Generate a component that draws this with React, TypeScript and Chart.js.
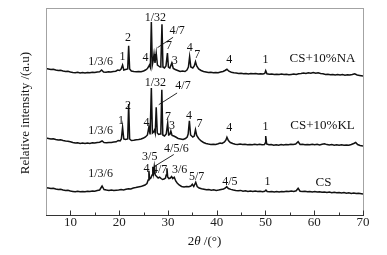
import React, { useEffect, useRef } from "react";
import { Chart, registerables } from "chart.js";

Chart.register(...registerables);

const FONT = "'Liberation Serif', 'Times New Roman', serif";

// x axis (2θ, degrees)
const xMin = 5;
const xMax = 70;
const xTickValues = [10, 20, 30, 40, 50, 60, 70];
const xMinorTicks = [15, 25, 35, 45, 55, 65];

// y axis: relative intensity (a.u.), patterns stacked
const yMin = 0;
const yMax = 207;

// CS + 10% NA pattern: [2θ, intensity]
const naPattern: [number, number][] = [
  [5, 146.5], [5.5, 146], [6, 145.5], [6.5, 145.8], [7, 145], [7.5, 144.5], [8, 144.8], [8.5, 144], [9, 143.5], [9.5, 143.8],
  [10, 143], [10.5, 142.5], [11, 142.2], [11.5, 142.8], [12, 142], [12.5, 142.5], [13, 142], [13.5, 142.6], [14, 142.2], [14.5, 142.8],
  [15, 142.5], [15.5, 143], [16, 143.2], [16.4, 145], [16.8, 143], [17.3, 142.8], [17.8, 143.2], [18.3, 143], [18.8, 143.5], [19.3, 143.8],
  [19.7, 145], [20.1, 144.5], [20.4, 146], [20.7, 150], [20.95, 145], [21.3, 145.5], [21.75, 146], [21.95, 169.3], [22.15, 146], [22.5, 144],
  [23, 143.5], [23.5, 143.2], [24, 143.6], [24.5, 143.3], [25, 144], [25.4, 145], [25.8, 146.5], [26.0, 148], [26.2, 150], [26.4, 147.5],
  [26.6, 193], [26.8, 150], [27.0, 155], [27.15, 161], [27.35, 152], [27.6, 162], [27.85, 150], [28.1, 149], [28.4, 148], [28.55, 151],
  [28.78, 190.7], [28.98, 148], [29.3, 147], [29.6, 149], [29.9, 162], [30.1, 148], [30.4, 147], [30.8, 152], [31.1, 146.5], [31.5, 145.5],
  [32, 144.5], [32.5, 143.5], [33, 144], [33.5, 143.5], [33.9, 145], [34.2, 148], [34.45, 158.3], [34.7, 148], [35.1, 147], [35.4, 149],
  [35.65, 153.3], [35.9, 149], [36.3, 146], [36.8, 144.5], [37.3, 143.5], [37.8, 143], [38.3, 142.5], [38.8, 142.8], [39.3, 142.2], [39.8, 142.6],
  [40.3, 142.2], [40.8, 143], [41.3, 143.5], [41.7, 144.5], [42.1, 145.7], [42.5, 143.8], [43, 142.8], [43.5, 142.2], [44, 142], [44.5, 141.5],
  [45, 141.8], [45.5, 141.2], [46, 141.5], [46.5, 141], [47, 141.5], [47.5, 141.2], [48, 141.6], [48.5, 141], [49, 141.3], [49.5, 141],
  [49.85, 141.5], [50.05, 144.3], [50.3, 141.2], [50.8, 140.8], [51.3, 141], [51.8, 140.5], [52.3, 140.8], [52.8, 140.4], [53.3, 141], [53.8, 140.5],
  [54.3, 140.8], [54.8, 140.2], [55.3, 140.6], [55.8, 141], [56.3, 140.5], [56.8, 141.2], [57.3, 141.5], [57.8, 142], [58.3, 141.5], [58.8, 142.3],
  [59.3, 141.8], [59.8, 142.5], [60.3, 141.8], [60.8, 142.3], [61.3, 141.5], [61.8, 141.2], [62.3, 140.5], [62.8, 140.8], [63.3, 140.3], [63.8, 140.6],
  [64.3, 140], [64.8, 140.4], [65.3, 140], [65.8, 140.5], [66.3, 139.8], [66.8, 140.3], [67.3, 140], [67.8, 140.5], [68.3, 141.2], [68.8, 140],
  [69.3, 139.6], [70, 139],
];

// CS + 10% KL pattern
const klPattern: [number, number][] = [
  [5, 77], [5.5, 76.5], [6, 76], [6.5, 76.3], [7, 75.5], [7.5, 75], [8, 75.2], [8.5, 74.5], [9, 74], [9.5, 73.8],
  [10, 73.2], [10.5, 72.5], [11, 72], [11.5, 72.3], [12, 71.6], [12.5, 71.9], [13, 71.5], [13.5, 72], [14, 71.6], [14.5, 72.2],
  [15, 72], [15.5, 72.5], [16, 72.8], [16.5, 74], [16.9, 72.5], [17.4, 72.3], [17.9, 72.6], [18.4, 72.4], [18.9, 73], [19.4, 73.2],
  [19.8, 74.5], [20.2, 74], [20.45, 76], [20.7, 87.7], [20.95, 76], [21.3, 75.5], [21.75, 76], [21.95, 111], [22.15, 76], [22.5, 74.5],
  [23, 74.8], [23.5, 75.2], [24, 75.5], [24.5, 76], [25, 77], [25.4, 78], [25.8, 80], [26.1, 88], [26.35, 80.5], [26.6, 127],
  [26.82, 82], [27.05, 83], [27.25, 85], [27.4, 82], [27.6, 107.7], [27.82, 82], [28.1, 80.5], [28.4, 81], [28.55, 84], [28.75, 125.3],
  [28.95, 80], [29.3, 79], [29.65, 81], [29.95, 92], [30.15, 80], [30.4, 80.5], [30.6, 84], [30.85, 79.5], [31.2, 79], [31.6, 78],
  [32.1, 76.5], [32.6, 76], [33.1, 75.5], [33.6, 76.5], [33.95, 78], [34.15, 81], [34.4, 94.3], [34.65, 80], [35.1, 78], [35.4, 79],
  [35.65, 85.3], [35.9, 79.5], [36.3, 76.5], [36.8, 74], [37.3, 72.5], [37.8, 71.5], [38.3, 71], [38.8, 70.6], [39.3, 70.8], [39.8, 70.5],
  [40.3, 71.2], [40.7, 72], [41.1, 71.5], [41.6, 73], [41.9, 75], [42.1, 77.7], [42.4, 74.5], [42.8, 72.5], [43.3, 71.5], [43.8, 70.8],
  [44.3, 70.5], [44.8, 71], [45.3, 70.4], [45.8, 70.8], [46.3, 70.2], [46.8, 70.6], [47.3, 70.2], [47.8, 70.8], [48.3, 70.3], [48.8, 70.7],
  [49.3, 70.2], [49.8, 70.5], [49.95, 72], [50.05, 79], [50.25, 71], [50.7, 70.2], [51.2, 70.5], [51.7, 69.8], [52.2, 70.3], [52.7, 69.8],
  [53.2, 70.4], [53.7, 70], [54.2, 70.5], [54.7, 70.2], [55.2, 70.8], [55.7, 70.4], [56.2, 71], [56.7, 73.3], [57.1, 70.5], [57.6, 70.8],
  [58.1, 70.2], [58.6, 70.6], [59.1, 70.2], [59.6, 70.8], [60.1, 70.3], [60.6, 70.7], [61.1, 70.1], [61.6, 70.8], [62.1, 71.2], [62.6, 70.4],
  [63.1, 70], [63.6, 70.4], [64.1, 69.8], [64.6, 70.3], [65.1, 69.8], [65.6, 70.2], [66.1, 69.7], [66.6, 70.1], [67.1, 69.8], [67.6, 70.5],
  [68.1, 71.5], [68.5, 72.5], [68.9, 70.5], [69.4, 69.5], [70, 69],
];

// CS pattern
const csPattern: [number, number][] = [
  [5, 27.3], [5.5, 27], [6, 26.5], [6.5, 26.8], [7, 26], [7.5, 25.5], [8, 25.8], [8.5, 25], [9, 24.5], [9.5, 24.8],
  [10, 24], [10.5, 23.6], [11, 23.2], [11.5, 23.8], [12, 23.3], [12.5, 23.6], [13, 23.2], [13.5, 23.8], [14, 23.5], [14.5, 24],
  [15, 23.8], [15.5, 24.4], [16, 25], [16.5, 29], [16.9, 25.5], [17.4, 25], [17.9, 24.6], [18.4, 25], [18.9, 24.4], [19.4, 24.8],
  [19.9, 25], [20.4, 25.4], [20.9, 25.1], [21.4, 25.8], [21.9, 26.2], [22.4, 26], [22.9, 27], [23.4, 27.4], [23.9, 28], [24.4, 28.4],
  [24.9, 29.3], [25.3, 30], [25.7, 31.5], [25.95, 35], [26.1, 44.3], [26.25, 36], [26.5, 37], [26.75, 40], [26.9, 48.3], [27.05, 42],
  [27.2, 48.3], [27.4, 40], [27.7, 38.5], [28, 37], [28.3, 37.8], [28.6, 36.5], [28.9, 35.5], [29.2, 36], [29.5, 37], [29.65, 40],
  [29.8, 46.7], [29.95, 38], [30.2, 36.5], [30.5, 37], [30.75, 38.5], [31.0, 36.5], [31.3, 37.8], [31.6, 34], [31.9, 32], [32.3, 30],
  [32.8, 28.5], [33.3, 28], [33.8, 28.6], [34.3, 28.2], [34.7, 29], [35.0, 30.7], [35.3, 28.5], [35.7, 32.7], [36.0, 28.5], [36.4, 27],
  [36.9, 26.2], [37.4, 25.8], [37.9, 25.2], [38.4, 25.5], [38.9, 24.8], [39.4, 25.2], [39.9, 24.6], [40.4, 25], [40.9, 25.5], [41.4, 26],
  [41.8, 27], [42.05, 28.3], [42.4, 26.5], [42.9, 25.6], [43.4, 25], [43.9, 24.5], [44.4, 24.2], [44.9, 24.6], [45.4, 23.8], [45.9, 24.2],
  [46.4, 23.6], [46.9, 24], [47.4, 23.4], [47.9, 23.9], [48.4, 23.4], [48.9, 23.8], [49.4, 23.3], [49.85, 23.8], [50.1, 25], [50.35, 23.5],
  [50.8, 23.2], [51.3, 23.6], [51.8, 23], [52.3, 23.5], [52.8, 23], [53.3, 23.6], [53.8, 23.2], [54.3, 23.8], [54.8, 23.4], [55.3, 24],
  [55.8, 23.6], [56.3, 24.2], [56.7, 26.7], [57.1, 23.8], [57.6, 23.4], [58.1, 23.8], [58.6, 23.2], [59.1, 23.6], [59.6, 23], [60.1, 23.5],
  [60.6, 23], [61.1, 23.3], [61.6, 22.7], [62.1, 23.1], [62.6, 22.5], [63.1, 22.9], [63.6, 22.3], [64.1, 22.7], [64.6, 22.2], [65.1, 22.6],
  [65.6, 22], [66.1, 22.4], [66.6, 21.8], [67.1, 22.2], [67.6, 21.6], [68.1, 22], [68.6, 21.4], [69.1, 21.8], [70, 21],
];

// Peak labels: [text, 2θ, intensity]
type PeakLabel = [string, number, number];
const naLabels: PeakLabel[] = [
  ["1/3/6", 16.2, 152.7], ["1", 20.7, 158.3], ["2", 21.8, 176.7], ["4", 25.4, 157.3], ["1/32", 27.44, 197.3],
  ["4/7", 31.9, 184.5], ["7", 30.2, 169], ["3", 31.4, 154], ["4", 34.5, 166.7], ["7", 36.0, 160],
  ["4", 42.6, 155], ["1", 50.0, 155],
];
const klLabels: PeakLabel[] = [
  ["1/3/6", 16.2, 83.7], ["1", 20.4, 93.7], ["2", 21.8, 108.7], ["4", 25.6, 92], ["1/32", 27.44, 132],
  ["4/7", 33.1, 128.7], ["7", 30.0, 97.7], ["3", 30.85, 88.7], ["4", 34.3, 99.3], ["7", 36.5, 91.3],
  ["4", 42.6, 86.7], ["1", 50.0, 87.7],
];
const csLabels: PeakLabel[] = [
  ["1/3/6", 16.2, 40.7], ["3/5", 26.27, 58], ["4/5/6", 31.75, 66.3], ["4", 25.6, 46], ["4/7", 28.3, 45],
  ["3/6", 32.4, 45], ["5/7", 35.9, 38.3], ["4/5", 42.7, 33.3], ["1", 50.4, 32.7],
];
// Series names: [text, 2θ, intensity]
const seriesNames: PeakLabel[] = [
  ["CS+10%NA", 61.7, 156.7], ["CS+10%KL", 61.7, 89], ["CS", 61.9, 32.3],
];
// Leader lines: [2θ1, I1, 2θ2, I2]
const leaderLines: [number, number, number, number][] = [
  [31.06, 177.7, 27.85, 167.3],
  [31.88, 122, 28.12, 110.3],
  [31.2, 60.5, 27.3, 48.8],
];

const xTitle = ["2", "θ", " /(°)"];
const yTitle = "Relative intensity /(a.u)";

const annotationPlugin = {
  id: "annotations",
  afterDatasetsDraw(chart: any) {
    const { ctx, scales } = chart;
    const xs = scales.x;
    const ys = scales.y;
    ctx.save();
    ctx.fillStyle = "#111";
    ctx.textAlign = "center";
    ctx.textBaseline = "middle";
    ctx.font = `12px ${FONT}`;
    [...naLabels, ...klLabels, ...csLabels].forEach(([t, x, y]) => {
      ctx.fillText(t, xs.getPixelForValue(x), ys.getPixelForValue(y));
    });
    ctx.font = `13px ${FONT}`;
    seriesNames.forEach(([t, x, y]) => {
      ctx.fillText(t, xs.getPixelForValue(x), ys.getPixelForValue(y));
    });
    ctx.strokeStyle = "#111";
    ctx.lineWidth = 0.9;
    leaderLines.forEach(([x1, y1, x2, y2]) => {
      ctx.beginPath();
      ctx.moveTo(xs.getPixelForValue(x1), ys.getPixelForValue(y1));
      ctx.lineTo(xs.getPixelForValue(x2), ys.getPixelForValue(y2));
      ctx.stroke();
    });
    ctx.restore();
  },
};

const framePlugin = {
  id: "frame",
  afterDraw(chart: any) {
    const { ctx, chartArea, scales } = chart;
    const { left, right, top, bottom } = chartArea;
    const xs = scales.x;
    ctx.save();
    ctx.strokeStyle = "#a3a3a3";
    ctx.lineWidth = 1;
    ctx.strokeRect(Math.round(left) + 0.5, Math.round(top) + 0.5, Math.round(right - left), Math.round(bottom - top));
    ctx.strokeStyle = "#333";
    const by = Math.round(bottom) + 0.5;
    ctx.beginPath();
    ctx.moveTo(left, by);
    ctx.lineTo(right + 1, by);
    xTickValues.forEach((v) => {
      const px = Math.round(xs.getPixelForValue(v)) + 0.5;
      ctx.moveTo(px, by);
      ctx.lineTo(px, by - 5);
    });
    xMinorTicks.forEach((v) => {
      const px = Math.round(xs.getPixelForValue(v)) + 0.5;
      ctx.moveTo(px, by);
      ctx.lineTo(px, by - 3);
    });
    ctx.stroke();

    // x title with italic theta
    ctx.fillStyle = "#111";
    ctx.textBaseline = "middle";
    ctx.textAlign = "left";
    const fonts = [`13px ${FONT}`, `italic 13px ${FONT}`, `13px ${FONT}`];
    let total = 0;
    const widths = xTitle.map((s, i) => {
      ctx.font = fonts[i];
      const w = ctx.measureText(s).width;
      total += w;
      return w;
    });
    let cx = (left + right) / 2 - total / 2;
    const ty = 242;
    xTitle.forEach((s, i) => {
      ctx.font = fonts[i];
      ctx.fillText(s, cx, ty);
      cx += widths[i];
    });

    // y title
    ctx.translate(26, 113);
    ctx.rotate(-Math.PI / 2);
    ctx.textAlign = "center";
    ctx.font = `13px ${FONT}`;
    ctx.fillText(yTitle, 0, 0);
    ctx.restore();
  },
};

export default function App() {
  const canvasRef = useRef<HTMLCanvasElement | null>(null);

  useEffect(() => {
    if (!canvasRef.current) return;
    const mk = (pts: [number, number][]) => pts.map(([x, y]) => ({ x, y }));
    const lineStyle = {
      borderColor: "#111",
      borderWidth: 1.5,
      pointRadius: 0,
      tension: 0,
      fill: false,
    };
    const chart = new Chart(canvasRef.current, {
      type: "line",
      data: {
        datasets: [
          { label: "CS+10%NA", data: mk(naPattern), ...lineStyle },
          { label: "CS+10%KL", data: mk(klPattern), ...lineStyle },
          { label: "CS", data: mk(csPattern), ...lineStyle },
        ],
      },
      options: {
        animation: false,
        responsive: true,
        maintainAspectRatio: false,
        layout: { padding: { left: 46, right: 24, top: 8, bottom: 0 } },
        plugins: {
          legend: { display: false },
          tooltip: { enabled: false },
        },
        scales: {
          x: {
            type: "linear",
            min: xMin,
            max: xMax,
            grid: { display: false, drawTicks: false },
            border: { display: false },
            afterBuildTicks: (s: any) => {
              s.ticks = xTickValues.map((v) => ({ value: v }));
            },
            afterFit: (s: any) => {
              s.height = 40;
            },
            ticks: {
              padding: 0,
              color: "#222",
              font: { family: FONT, size: 13 },
              maxRotation: 0,
              autoSkip: false,
            },
          },
          y: {
            type: "linear",
            min: yMin,
            max: yMax,
            display: false,
          },
        },
      },
      plugins: [annotationPlugin, framePlugin],
    });
    return () => chart.destroy();
  }, []);

  return (
    <div style={{ position: "absolute", left: 0, top: 0, width: 387, height: 255, background: "#fff" }}>
      <canvas ref={canvasRef} />
    </div>
  );
}
